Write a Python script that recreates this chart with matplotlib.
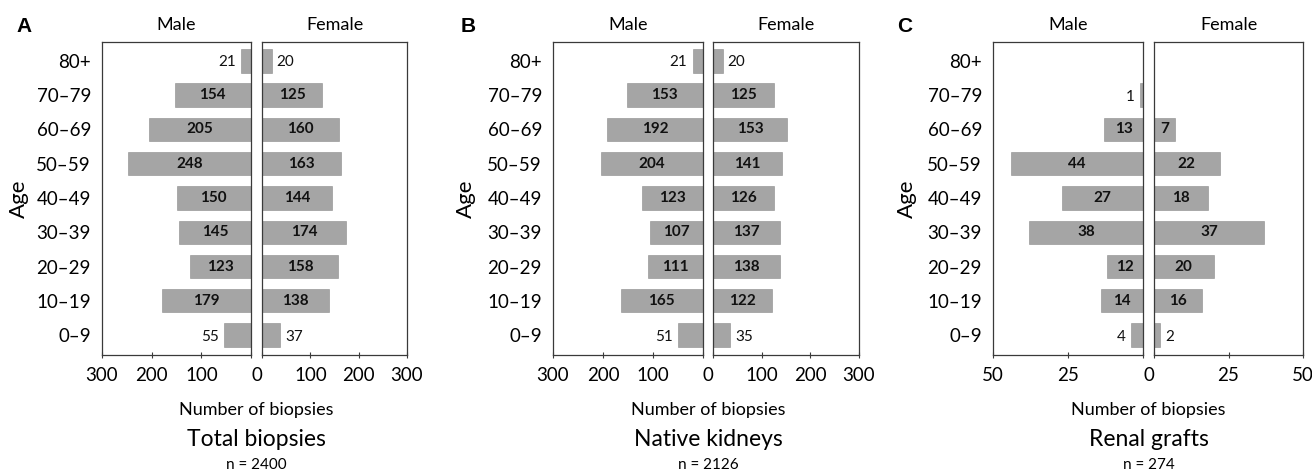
import numpy as np
import matplotlib.pyplot as plt
from matplotlib.transforms import ScaledTranslation

plt.rcParams['font.family'] = ['Lato', 'DejaVu Sans']

# age groups, bottom to top
age_groups = ["0–9", "10–19", "20–29", "30–39", "40–49", "50–59", "60–69", "70–79", "80+"]

total_male = [55, 179, 123, 145, 150, 248, 205, 154, 21]
total_female = [37, 138, 158, 174, 144, 163, 160, 125, 20]

native_male = [51, 165, 111, 107, 123, 204, 192, 153, 21]
native_female = [35, 122, 138, 137, 126, 141, 153, 125, 20]

graft_male = [4, 14, 12, 38, 27, 44, 13, 1, 0]
graft_female = [2, 16, 20, 37, 18, 22, 7, 0, 0]

panels = [
    # letter, title, n, male, female, axis max, tick step, label-outside below
    ("A", "Total biopsies", "n = 2400", total_male, total_female, 300, 100, 60),
    ("B", "Native kidneys", "n = 2126", native_male, native_female, 300, 100, 60),
    ("C", "Renal grafts", "n = 274", graft_male, graft_female, 50, 25, 5),
]

# pixel layout of the male / female boxes (left, right)
male_px = [(102, 251), (553, 703), (993, 1143)]
female_px = [(262, 407), (713, 859), (1154, 1303)]
letter_px = [24, 468, 905]
age_px = [20, 467, 908]

W, H = 1312, 475
top_px, bot_px = 42, 355
bar_color = '#a5a5a5'
edge = '#3a3a3a'

fig = plt.figure(figsize=(W / 100, H / 100), dpi=100)
y = np.arange(len(age_groups))


def make_ax(x0, x1):
    return fig.add_axes([x0 / W, (H - bot_px) / H, (x1 - x0) / W, (bot_px - top_px) / H])


def style(ax, xmax, step):
    for s in ax.spines.values():
        s.set_color(edge)
        s.set_linewidth(0.9)
    ax.set_ylim(-0.58, 8.55)
    ax.set_xlim(0, xmax)
    ax.set_xticks(np.arange(0, xmax + 1, step))
    ax.tick_params(axis='x', direction='inout', length=5, width=0.8, color=edge,
                   labelsize=13.5, pad=6)
    ax.tick_params(axis='y', length=0)


for i, (letter, title, ntext, male, female, xmax, step, thr) in enumerate(panels):
    axm = make_ax(*male_px[i])
    axf = make_ax(*female_px[i])

    axm.barh(y, male, height=0.68, color=bar_color, edgecolor='#8c8c8c', linewidth=0.4)
    axf.barh(y, female, height=0.68, color=bar_color, edgecolor='#8c8c8c', linewidth=0.4)

    style(axm, xmax, step)
    style(axf, xmax, step)
    axm.invert_xaxis()

    ticks = list(np.arange(0, xmax + 1, step))
    axm.set_xticklabels([''] + [str(t) for t in ticks[1:]])
    axf.set_xticklabels([str(t) for t in ticks])
    # centre the shared "0" between the two boxes
    gap = (female_px[i][0] - male_px[i][1]) / 2
    lab0 = axf.get_xticklabels()[0]
    lab0.set_transform(lab0.get_transform() + ScaledTranslation(-gap / 100, 0, fig.dpi_scale_trans))

    axm.set_yticks(y)
    axm.set_yticklabels(age_groups, fontsize=13.5)
    axm.tick_params(axis='y', pad=8)
    axf.set_yticks([])
    axm.set_ylabel("Age", fontsize=16)
    axm.yaxis.set_label_coords((age_px[i] + 9 - male_px[i][0]) / (male_px[i][1] - male_px[i][0]), 0.5)

    for ax, vals, sign in ((axm, male, -1), (axf, female, 1)):
        for yy, v in zip(y, vals):
            if v == 0:
                continue
            if v < thr:
                off = 5 / 100 * 72  # points
                ax.annotate(str(v), (v, yy), xytext=(sign * off, -1), textcoords='offset points',
                            ha='left' if sign > 0 else 'right', va='center', fontsize=11,
                            color='#111111')
            else:
                ax.text(v / 2, yy, str(v), ha='center', va='center', fontsize=11,
                        fontweight='bold', color='#111111')

    axm.text(0.5, 1.055, "Male", transform=axm.transAxes, ha='center', va='center', fontsize=13)
    axf.text(0.5, 1.055, "Female", transform=axf.transAxes, ha='center', va='center', fontsize=13)

    xc = (male_px[i][1] + female_px[i][0]) / 2 / W
    fig.text(xc, (H - 410) / H, "Number of biopsies", ha='center', va='center', fontsize=13)
    fig.text(xc, (H - 439) / H, title, ha='center', va='center', fontsize=16.5)
    fig.text(xc, (H - 465) / H, ntext, ha='center', va='center', fontsize=11)

    fig.text(letter_px[i] / W, (H - 26) / H, letter, ha='center', va='center',
             fontsize=15, fontweight='bold', family='Liberation Sans')

fig.savefig("out.png", dpi=100)
